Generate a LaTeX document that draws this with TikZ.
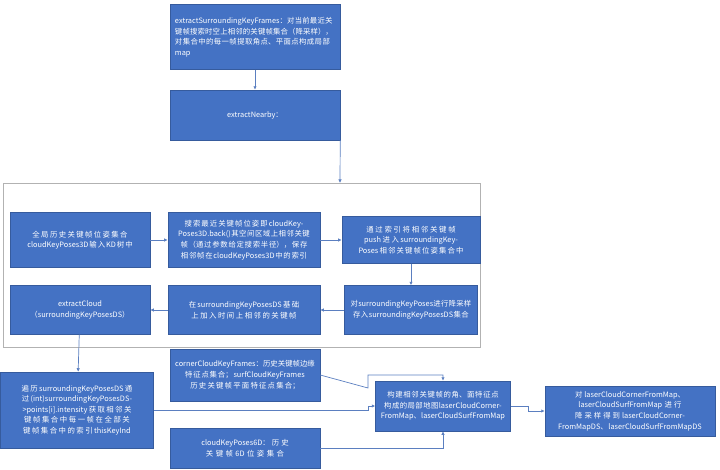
\documentclass[tikz,border=0pt]{standalone}
\usepackage{fontspec}
\setmainfont{Noto Sans CJK SC}
\XeTeXlinebreaklocale "zh"
\XeTeXlinebreakskip=0pt plus 1pt
\usetikzlibrary{positioning,arrows.meta}
\definecolor{boxblue}{HTML}{4472C4}
\definecolor{lineblue}{HTML}{5B7FC0}
\tikzset{
  blk/.style={draw=boxblue!80!black,fill=boxblue,text=white,align=center,inner sep=2pt,
    font=\fontsize{6.3}{9}\selectfont},
  lnk/.style={->,>={Latex[length=3pt,width=3pt]},draw=lineblue,line width=0.6pt}
}
\begin{document}
\begin{tikzpicture}[x=0.03cm,y=-0.03cm]
\useasboundingbox (0,0) rectangle (720,469);
% upper part
\node[blk,minimum width=5.1cm,minimum height=1.95cm,text width=4.8cm,align=left] (frames) at (255,37) {extractSurroundingKeyFrames：对当前最近关键帧搜索时空上相邻的关键帧集合（降采样），对集合中的每一帧提取角点、平面点构成局部map};
\node[blk,minimum width=5.1cm,minimum height=1.5cm] (nearby) at (255,115) {extractNearby：};
\draw[draw=black!30,line width=0.8pt] (3,183) rectangle (480,347);
\coordinate (outtop) at (340,183);
\draw[lnk] (frames) -- (nearby);
\draw[lnk] (nearby.south east) -- (outtop);
% inside the frame
\node[blk,minimum width=4.2cm,minimum height=1.65cm,text width=3.9cm] (kdtree) at (80,240) {全局历史关键帧位姿集合cloudKeyPoses3D输入KD树中};
\node[blk,minimum width=4.56cm,minimum height=1.65cm,text width=4.35cm] (search) at (244,240) {搜索最近关键帧位姿即cloudKeyPoses3D.back()其空间区域上相邻关键帧（通过参数给定搜索半径），保存相邻帧在cloudKeyPoses3D中的索引};
\node[blk,minimum width=4.14cm,minimum height=1.41cm,text width=4.0cm] (push) at (411,240) {通过索引将相邻关键帧push进入surroundingKeyPoses相邻关键帧位姿集合中};
\node[blk,minimum width=3.99cm,minimum height=1.47cm,text width=3.8cm] (down) at (411,310) {对surroundingKeyPoses进行降采样存入surroundingKeyPosesDS集合};
\node[blk,minimum width=4.56cm,minimum height=1.47cm,text width=4.3cm] (addtime) at (244,310) {在surroundingKeyPosesDS基础上加入时间上相邻的关键帧};
\node[blk,minimum width=4.2cm,minimum height=1.47cm,text width=4.0cm] (cloud) at (80,310) {extractCloud\\（surroundingKeyPosesDS）};
\draw[lnk] (kdtree) -- (search);
\draw[lnk] (search) -- (push);
\draw[lnk] (push) -- (down);
\draw[lnk] (down) -- (addtime);
\draw[lnk] (addtime) -- (cloud);
% lower part
\node[blk,minimum width=4.59cm,minimum height=2.28cm,text width=4.35cm] (loop) at (77,410) {遍历surroundingKeyPosesDS通过(int)surroundingKeyPosesDS->points[i].intensity获取相邻关键帧集合中每一帧在全部关键帧集合中的索引thisKeyInd};
\node[blk,minimum width=4.5cm,minimum height=1.56cm,text width=4.2cm] (feat) at (245,375) {cornerCloudKeyFrames：历史关键帧边缘特征点集合；surfCloudKeyFrames历史关键帧平面特征点集合；};
\node[blk,minimum width=4.5cm,minimum height=1.2cm,text width=4.2cm] (pose6d) at (245,448) {cloudKeyPoses6D：历史关键帧6D位姿集合};
\node[blk,minimum width=4.05cm,minimum height=1.5cm,text width=3.85cm] (localmap) at (443,406) {构建相邻关键帧的角、面特征点构成的局部地图laserCloudCornerFromMap、laserCloudSurfFromMap};
\node[blk,minimum width=5.1cm,minimum height=1.5cm,text width=4.8cm] (dsmap) at (630,411) {对laserCloudCornerFromMap、laserCloudSurfFromMap进行降采样得到laserCloudCornerFromMapDS、laserCloudSurfFromMapDS};
\draw[lnk] (cloud) -- (loop);
\draw[lnk] (loop.east) -- (368,410) -- (368,406) -- (localmap.west);
\draw[lnk] (feat.east) -- (368,388) |- (443,375) -- (localmap.north);
\draw[lnk] (pose6d.east) -| (localmap.south);
\draw[lnk] (localmap.east) -- (528,406) |- (dsmap.west);
\end{tikzpicture}
\end{document}
